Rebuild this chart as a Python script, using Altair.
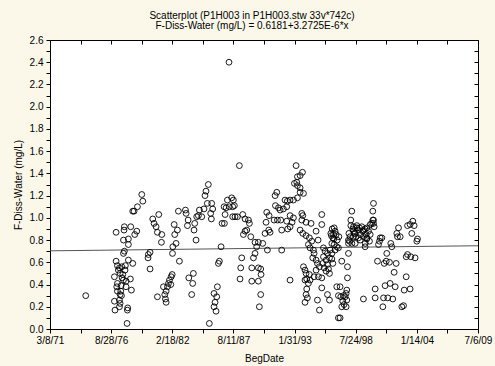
import json
import altair as alt
import pandas as pd

FONT = "Liberation Sans"

title_lines = ["Scatterplot (P1H003 in P1H003.stw 33v*742c)",
               "F-Diss-Water (mg/L) = 0.6181+3.2725E-6*x"]
x_title = "BegDate"
y_title = "F-Diss-Water (mg/L)"

# regression shown in the title (x = date serial number in days)
fit_intercept = 0.6181
fit_slope = 3.2725e-6

x_domain = [26000, 40000]
x_tick_values = list(range(26000, 40001, 1000))
x_tick_labels = ["3/8/71", "", "8/28/76", "", "2/18/82", "", "8/11/87", "",
                 "1/31/93", "", "7/24/98", "", "1/14/04", "", "7/6/09"]
y_domain = [0, 2.6]
y_tick_values = [round(i * 0.1, 1) for i in range(27)]
y_tick_labels = ["0.0", "", "0.2", "", "0.4", "", "0.6", "", "0.8", "", "1.0", "",
                 "1.2", "", "1.4", "", "1.6", "", "1.8", "", "2.0", "", "2.2", "",
                 "2.4", "", "2.6"]

# (decimal year of BegDate, F-Diss-Water mg/L)
pts_1974_1983 = [
    (1974.38, 0.30),
    (1976.95, 0.47), (1976.95, 0.25), (1977.00, 0.17),
    (1977.10, 0.61), (1977.22, 0.57), (1977.40, 0.55), (1977.61, 0.56), (1977.93, 0.57),
    (1977.90, 0.53), (1977.46, 0.50), (1977.70, 0.49), (1977.64, 0.46), (1977.76, 0.44),
    (1977.22, 0.41), (1977.16, 0.38), (1977.55, 0.39), (1977.99, 0.38), (1977.22, 0.34),
    (1977.52, 0.34), (1977.46, 0.31), (1977.40, 0.26), (1977.46, 0.23), (1977.40, 0.20),
    (1978.14, 0.19), (1978.11, 0.17), (1978.38, 0.45), (1978.47, 0.35), (1978.08, 0.05),
    (1977.10, 0.87), (1977.84, 0.92), (1977.81, 0.89), (1978.41, 0.92), (1977.76, 0.80),
    (1978.20, 0.81), (1978.20, 0.76), (1977.84, 0.70), (1977.76, 0.68), (1978.20, 0.62),
    (1978.59, 0.59), (1978.95, 0.88), (1978.77, 0.85), (1978.59, 1.06), (1978.71, 1.06),
    (1979.01, 1.10), (1979.40, 1.21), (1979.49, 1.15),
    (1977.30, 0.53), (1977.58, 0.30), (1978.00, 0.43),
    (1980.38, 0.99), (1980.92, 1.03), (1980.50, 0.95), (1980.68, 0.92), (1980.80, 0.87),
    (1981.19, 0.85), (1981.16, 0.78), (1980.14, 0.69), (1979.99, 0.67), (1979.96, 0.64),
    (1980.14, 0.54), (1980.80, 0.29),
    (1982.18, 0.74), (1982.47, 0.77), (1982.35, 0.85), (1982.30, 0.94), (1982.59, 0.89),
    (1982.77, 0.61), (1982.15, 0.68), (1982.68, 1.06), (1983.31, 1.07), (1983.37, 1.04),
    (1983.55, 0.98), (1983.49, 0.93), (1982.12, 0.49), (1982.03, 0.47), (1981.88, 0.44),
    (1981.79, 0.41), (1982.00, 0.40), (1981.70, 0.38), (1981.34, 0.38), (1981.58, 0.34),
    (1981.46, 0.31), (1981.52, 0.27), (1981.58, 0.24), (1983.61, 0.46),
]

pts_1984_1990 = [
    (1983.96, 0.41), (1983.87, 0.31), (1984.02, 0.50),
    (1985.36, 1.30), (1985.15, 1.24), (1985.06, 1.20), (1985.66, 1.13), (1985.27, 1.13),
    (1985.75, 1.08), (1984.97, 1.08), (1984.56, 1.07), (1985.57, 1.04), (1984.47, 1.02),
    (1984.77, 1.01), (1984.32, 1.01), (1985.63, 0.99), (1984.14, 0.95), (1984.08, 0.89),
    (1984.26, 0.80),
    (1986.35, 0.61), (1986.26, 0.59), (1986.50, 0.74), (1986.17, 0.38), (1985.87, 0.32),
    (1986.11, 0.29), (1985.96, 0.24), (1985.87, 0.20), (1986.05, 0.16), (1985.45, 0.05),
    (1987.21, 2.40), (1988.14, 1.47),
    (1987.45, 1.18), (1987.60, 1.16), (1987.07, 1.16), (1987.24, 1.10), (1986.95, 1.09),
    (1986.77, 1.10), (1987.54, 1.10), (1987.69, 1.11), (1986.86, 1.03), (1986.59, 0.95),
    (1986.80, 0.95), (1987.54, 1.01), (1987.75, 1.01), (1987.96, 1.01), (1988.44, 1.03),
    (1988.65, 0.99), (1988.95, 0.98), (1989.04, 0.95), (1988.65, 0.88), (1988.80, 0.89),
    (1988.50, 0.85), (1989.16, 0.83), (1989.54, 0.78), (1989.84, 0.78), (1990.23, 0.77),
    (1989.69, 0.74), (1989.54, 0.68), (1989.40, 0.64), (1988.35, 0.64), (1988.26, 0.55),
    (1988.20, 0.45), (1989.25, 0.55), (1989.84, 0.55), (1990.05, 0.54), (1990.08, 0.49),
    (1989.25, 0.43), (1989.84, 0.43), (1990.05, 0.31), (1989.93, 0.20), (1990.65, 0.71),
    (1990.53, 0.96), (1990.44, 0.86), (1990.77, 0.89), (1990.89, 0.87), (1990.59, 1.05),
    (1990.80, 1.02),
]

pts_1991_1995 = [
    (1991.49, 1.23), (1991.34, 1.20), (1991.37, 1.11), (1991.64, 1.09), (1991.79, 1.07),
    (1992.08, 1.08), (1992.38, 1.10), (1992.23, 1.16), (1992.44, 1.15), (1992.68, 1.16),
    (1992.98, 1.16), (1993.34, 1.18), (1993.58, 1.23), (1993.88, 1.22),
    (1993.22, 1.47), (1993.79, 1.41), (1993.58, 1.38), (1993.34, 1.37), (1993.07, 1.31),
    (1993.28, 1.32), (1993.34, 1.29), (1993.58, 1.27),
    (1991.25, 0.98), (1991.55, 0.98), (1991.84, 0.98), (1992.38, 0.97), (1992.86, 0.96),
    (1992.68, 1.02), (1992.98, 1.00), (1993.73, 1.04), (1993.82, 1.02), (1991.93, 0.89),
    (1992.47, 0.90), (1992.68, 0.92), (1991.93, 0.71), (1992.68, 0.44),
    (1993.73, 0.98), (1994.11, 0.96), (1993.58, 0.89), (1993.82, 0.86), (1994.11, 0.84),
    (1994.41, 0.82), (1994.56, 0.95), (1995.01, 0.88), (1995.19, 0.80), (1994.62, 0.79),
    (1994.32, 0.76), (1994.47, 0.73), (1994.77, 0.71), (1994.83, 0.68), (1994.71, 0.64),
    (1995.01, 0.62), (1995.13, 0.59), (1995.31, 0.56), (1995.01, 0.53), (1995.22, 0.47),
    (1994.83, 0.47), (1994.47, 0.44), (1994.32, 0.41), (1994.17, 0.36), (1994.11, 0.31),
    (1994.23, 0.28), (1994.02, 0.24), (1993.88, 0.56), (1994.02, 0.53), (1994.11, 0.50),
    (1994.17, 0.45), (1994.02, 0.44), (1994.41, 0.49), (1995.13, 0.26), (1995.31, 0.17),
]

pts_1995_1999 = [
    (1995.52, 1.03), (1995.52, 0.94), (1995.67, 0.73), (1995.82, 0.70), (1996.03, 0.68),
    (1996.27, 0.71), (1996.42, 0.68), (1995.67, 0.65), (1995.91, 0.62), (1996.21, 0.64),
    (1996.42, 0.63), (1995.61, 0.59), (1996.03, 0.58), (1995.73, 0.55), (1996.12, 0.54),
    (1995.91, 0.52), (1996.21, 0.50), (1996.51, 0.59), (1995.52, 0.46), (1995.52, 0.37),
    (1996.03, 0.31), (1996.21, 0.26),
    (1996.33, 0.86), (1996.57, 0.85), (1996.71, 0.88), (1996.63, 0.91), (1996.80, 0.85),
    (1996.51, 0.82), (1996.42, 0.77), (1996.63, 0.76), (1996.86, 0.74), (1997.01, 0.73),
    (1996.71, 0.71), (1996.86, 0.38), (1997.01, 0.30), (1997.22, 0.29), (1997.46, 0.30),
    (1997.61, 0.29), (1997.70, 0.32), (1997.76, 0.26), (1997.40, 0.25), (1997.52, 0.22),
    (1997.31, 0.20), (1997.70, 0.20), (1997.16, 0.38), (1997.01, 0.10), (1997.16, 0.10),
    (1996.45, 0.90), (1996.60, 0.81), (1996.90, 0.80), (1996.38, 0.84), (1997.05, 0.83),
    (1997.31, 0.61), (1997.82, 0.56), (1997.82, 0.46), (1997.76, 0.35), (1997.91, 0.68),
    (1997.91, 0.80), (1997.91, 0.77), (1998.06, 0.83), (1998.21, 1.06), (1998.12, 0.98),
    (1998.12, 0.93), (1998.30, 0.90), (1998.36, 0.88), (1998.51, 0.86), (1998.66, 0.91),
    (1998.81, 0.89), (1998.36, 0.83), (1998.60, 0.83), (1998.81, 0.82), (1998.00, 0.79),
    (1998.21, 0.77), (1998.96, 0.85), (1999.10, 0.92), (1999.19, 0.88), (1999.40, 0.90),
    (1999.49, 0.85), (1999.55, 0.81), (1999.70, 0.88), (1999.85, 0.85), (1999.79, 0.79),
    (1999.40, 0.74), (1999.25, 0.27),
    (1998.36, 0.92), (1998.90, 0.91), (1999.26, 0.89), (1999.56, 0.91), (1999.86, 0.94),
    (1998.42, 0.86), (1998.66, 0.93), (1999.26, 0.83), (1999.56, 0.82), (1998.51, 0.77),
    (1999.41, 0.77), (1998.96, 0.80), (1997.95, 0.86),
]

pts_2000_2004 = [
    (2000.00, 0.95), (2000.15, 0.98), (2000.09, 1.06), (2000.15, 1.13), (2000.21, 0.92),
    (2000.30, 0.36), (2000.30, 0.28), (2000.51, 0.61), (2000.60, 0.76), (2000.69, 0.79),
    (2000.75, 0.82), (2000.90, 0.82), (2000.99, 0.20), (2001.05, 0.28), (2001.11, 0.59),
    (2001.29, 0.61), (2001.34, 0.68), (2001.19, 0.39), (2001.43, 0.28), (2001.64, 0.41),
    (2001.70, 0.77), (2001.79, 0.74), (2001.58, 0.60), (2001.88, 0.27), (2002.00, 0.51),
    (2002.09, 0.38), (2002.18, 0.59), (2002.24, 0.86), (2002.30, 0.83), (2002.54, 0.83),
    (2002.39, 0.91), (2002.69, 0.20), (2002.84, 0.21), (2002.90, 0.35), (2003.08, 0.47),
    (2003.08, 0.65), (2003.20, 0.67), (2003.49, 0.65), (2003.88, 0.64), (2003.43, 0.36),
    (2003.20, 0.93), (2003.43, 0.94), (2003.67, 0.97), (2003.79, 0.93), (2003.58, 0.86),
    (2004.09, 0.81), (2004.03, 0.79), (2000.09, 0.98), (2000.15, 0.95),
]

all_pts = pts_1974_1983 + pts_1984_1990 + pts_1991_1995 + pts_1995_1999 + pts_2000_2004
df = pd.DataFrame(all_pts, columns=["year", "fdiss"])
fit_df = pd.DataFrame({"serial": x_domain})

x_label_expr = json.dumps(x_tick_labels) + "[round((datum.value - 26000) / 1000)]"
y_label_expr = json.dumps(y_tick_labels) + "[round(datum.value * 10)]"

xscale = alt.Scale(domain=x_domain, nice=False, zero=False)
yscale = alt.Scale(domain=y_domain, nice=False, zero=False)

points = alt.Chart(df).transform_calculate(
    serial="25569 + (datum.year - 1970) * 365.25"
).mark_point(shape="circle", filled=False, size=34, color="black",
             strokeWidth=0.9, opacity=1).encode(
    x=alt.X("serial:Q", scale=xscale,
            axis=alt.Axis(orient="bottom", title=x_title, values=x_tick_values,
                          labelExpr=x_label_expr, tickSize=4, domain=False, grid=False,
                          labelFlush=False, labelOverlap=False, labelPadding=2,
                          titlePadding=8)),
    y=alt.Y("fdiss:Q", scale=yscale,
            axis=alt.Axis(orient="left", title=y_title, values=y_tick_values,
                          labelExpr=y_label_expr, tickSize=4, domain=False, grid=False,
                          labelFlush=False, labelOverlap=False, labelPadding=3,
                          titlePadding=6)),
)

line = alt.Chart(fit_df).transform_calculate(
    fit=f"{fit_intercept} + {fit_slope} * datum.serial"
).mark_line(color="#555555", strokeWidth=1).encode(
    x=alt.X("serial:Q", scale=xscale,
            axis=alt.Axis(orient="top", title="", values=x_tick_values, labels=False,
                          tickSize=4, offset=-4, domain=False, grid=False)),
    y=alt.Y("fit:Q", scale=yscale,
            axis=alt.Axis(orient="right", title="", values=y_tick_values, labels=False,
                          tickSize=4, offset=-4, domain=False, grid=False)),
)

chart = alt.layer(line, points).resolve_axis(
    x="independent", y="independent"
).properties(
    width=428, height=289,
    autosize=alt.AutoSizeParams(type="none"),
    padding={"left": 50, "top": 40, "right": 17, "bottom": 37},
    background="#fbf8ea",
    title=alt.TitleParams(text=title_lines, fontSize=10, fontWeight="normal",
                          font=FONT, color="black", anchor="middle", offset=4,
                          lineHeight=10, dx=-12),
).configure_view(
    stroke="black", strokeWidth=1, fill="white"
).configure_axis(
    labelFont=FONT, titleFont=FONT, labelFontSize=10, titleFontSize=10,
    titleFontWeight="normal", labelColor="black", titleColor="black",
    tickColor="black", tickWidth=1
)

chart.save("out.html", embed_options={"renderer": "svg", "actions": False})
